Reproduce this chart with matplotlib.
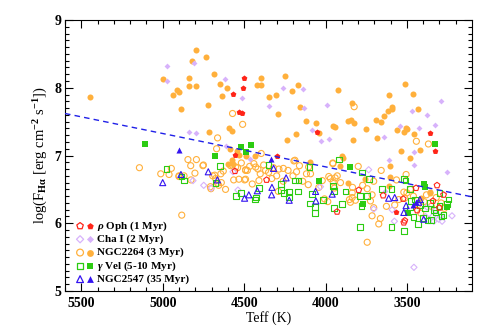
import matplotlib as mpl
import matplotlib.pyplot as plt

# ---- data (Teff in K, log F_Halpha) ----
rho_filled_T = [4501, 4507, 4571, 4530, 4513, 4558, 4301, 4051, 3356, 3329, 3568]
rho_filled_y = [8.15, 8.00, 7.91, 7.64, 7.62, 7.01, 6.99, 7.34, 7.33, 7.07, 6.16]
rho_open_T = [4556, 4362, 3929, 3796, 3646, 3523, 3519, 3444, 3315, 3275, 3301, 3437, 3513, 3340]
rho_open_y = [6.77, 6.64, 6.17, 6.49, 6.41, 6.36, 6.01, 6.52, 6.56, 6.42, 6.23, 6.19, 6.04, 6.33]

cha_filled_T = [4975, 4975, 4808, 4836, 4793, 4620, 4513, 4609, 4262, 4139, 4348, 4133, 3990, 4086,
                4025, 3980, 3640, 3540, 3468, 3423, 3376, 3327, 3288, 3454, 3607, 3454, 4464, 3632, 3251]
cha_filled_y = [8.32, 8.10, 8.36, 7.34, 7.33, 8.13, 7.85, 7.14, 8.00, 7.98, 7.73, 7.70, 7.75, 7.37,
                7.22, 7.25, 7.27, 7.43, 7.66, 7.40, 7.60, 7.45, 7.80, 7.05, 6.94, 6.86, 6.95, 6.48, 6.76]
cha_open_T = [4814, 4748, 4701, 4538, 4568, 3457, 3735, 3591, 3704, 3223, 3577, 4031, 3305, 3343,
              3295, 3386, 3335, 3284, 3376, 3325]
cha_open_y = [6.63, 6.56, 6.52, 6.49, 6.76, 5.35, 6.79, 6.20, 6.21, 6.11, 6.03, 6.54, 6.06, 6.10,
              6.10, 6.10, 6.03, 6.03, 6.24, 6.19]

n2264_filled_T = [5446, 4998, 4939, 4910, 4898, 4885, 4840, 4839, 4820, 4796, 4796, 4734, 4722, 4716,
                  4685, 4648, 4638, 4605, 4593, 4577,
                  4395, 4423, 4395, 4250, 4166, 4204, 4348, 4302, 3922, 4158, 4290, 4121, 4059, 4039,
                  4180, 4237, 3951, 3940, 3839, 3861, 3845, 3826, 3750, 3687, 3658, 3638, 3615, 3593,
                  3589, 3607, 3511, 3464, 3429, 3560, 3505, 3499, 3519, 3458, 3685, 3832, 3421, 3536,
                  3483, 3603, 4094, 3897, 3912,
                  4491, 4434, 4587, 4544, 4529, 4597, 4569, 4577, 3890, 3756, 3612, 3358, 3413, 3601,
                  3863, 3356]
n2264_filled_y = [7.86, 8.13, 7.89, 7.96, 7.93, 7.69, 8.15, 8.02, 8.40, 8.55, 8.03, 8.46, 7.75, 7.34,
                  8.20, 8.06, 7.88, 7.99, 7.40, 7.36,
                  8.14, 8.04, 8.04, 8.17, 8.04, 7.95, 7.87, 7.90, 7.96, 7.71, 7.61, 7.51, 7.48, 7.33,
                  7.32, 7.23, 7.43, 7.42, 7.77, 7.51, 7.52, 7.48, 7.39, 7.53, 7.50, 7.59, 7.65, 7.72,
                  7.68, 7.89, 8.05, 7.91, 7.68, 7.38, 7.40, 7.39, 7.34, 7.32, 7.26, 7.23, 7.08, 7.06,
                  6.96, 6.84, 6.91, 6.99, 6.84,
                  7.00, 7.00, 7.10, 7.07, 7.01, 6.88, 6.88, 6.93, 6.96, 6.66, 6.55, 6.46, 6.37, 6.69,
                  6.59, 6.45]
n2264_open_T = [4571, 4509, 4663, 4669, 4845, 4793, 3824, 3442, 3368, 4194, 3799, 3955, 4395,
                5143, 5012, 4961, 4947, 4900, 4883, 4828, 4802, 4753, 4826, 4707, 4704, 4693, 4681,
                4614, 4656, 4628, 4583, 4540, 4491, 4564, 4491,
                4643, 4675, 4574, 4552, 4517, 4491, 4532, 4497, 4640, 4663, 4869, 4900, 4750,
                4188, 4178, 4117, 4092, 4106, 4020, 4286, 4259, 4368, 4401, 4429, 4466, 4480, 4409,
                4450, 4290, 4041,
                4104, 3980, 3928, 3953, 3945, 3836, 3816, 3853, 3704, 3724, 3673, 3663, 3744, 3626,
                3550, 3575, 3513, 3519, 3564, 3772, 3744, 3714,
                3955, 3658, 3704, 3970, 3941, 3908, 3834, 3847, 3836, 4006, 3986, 3714,
                3505, 3479, 3500, 3460, 3430, 3395, 3350, 3320, 3290, 3270, 3415, 3380,
                4440, 4415, 4380, 4350, 4320, 4300, 4330, 4260, 4230, 4140, 4160, 4200]
n2264_open_y = [7.62, 7.46, 7.26, 7.10, 6.94, 6.94, 7.72, 7.21, 7.17, 6.92, 6.84, 6.88, 7.03,
                6.82, 6.73, 6.72, 6.81, 6.69, 6.12, 6.85, 6.74, 6.85, 6.64, 6.54, 6.51, 6.70, 6.71,
                6.50, 6.56, 6.77, 6.85, 6.82, 6.78, 6.64, 6.65,
                6.73, 6.66, 6.86, 6.83, 6.89, 6.79, 6.65, 6.64, 6.60, 6.59, 6.70, 6.70, 6.86,
                6.93, 6.76, 6.73, 6.73, 6.57, 6.63, 6.80, 6.81, 6.78, 6.73, 6.83, 6.84, 6.78, 6.63,
                6.58, 6.47, 6.53,
                6.83, 6.69, 6.70, 6.61, 6.52, 6.45, 6.34, 6.35, 6.23, 6.33, 5.99, 6.07, 5.72, 6.25,
                6.35, 6.27, 6.37, 6.46, 6.64, 6.56, 6.51, 6.42,
                6.89, 6.78, 6.62, 6.66, 6.67, 6.60, 6.53, 6.31, 6.38, 6.36, 6.32, 6.11,
                6.72, 6.50, 6.45, 6.40, 6.28, 6.32, 6.25, 6.38, 6.30, 6.22, 6.15, 6.42,
                6.88, 6.80, 6.86, 6.75, 6.82, 6.70, 6.66, 6.62, 6.78, 6.62, 6.85, 6.70]

gvel_filled_T = [5110, 4677, 4521, 4489, 4456, 3329, 3851, 4043, 3768, 3393, 3391, 3254, 3495]
gvel_filled_y = [7.17, 6.99, 7.13, 7.05, 7.15, 7.17, 6.83, 6.63, 6.29, 6.58, 6.53, 6.24, 6.15]
gvel_open_T = [4977, 4885, 4869, 4648, 4675, 4552, 4517, 3916, 4098, 4350,
               4274, 4274, 4225, 4170, 4188, 4166, 4409, 4428, 4434, 4256, 4223, 4084, 4096, 4063,
               4063, 4014,
               3778, 3953, 3946, 3878, 3787, 3744, 3897, 3946, 3779, 3652, 3595, 3786, 3595,
               3509, 3474, 3325, 3288, 3431, 3374, 3517, 3254,
               3735, 3516, 3483,
               3450, 3420, 3390, 3360, 3335, 3300, 3275, 3245, 3480, 3400, 3350, 3460, 3300]
gvel_open_y = [6.80, 6.69, 6.63, 6.85, 6.59, 6.40, 6.45, 6.94, 6.83, 6.86,
               6.58, 6.49, 6.47, 6.47, 6.63, 6.63, 6.52, 6.38, 6.35, 6.45, 6.38, 6.43, 6.29, 6.24,
               6.15, 6.34,
               6.75, 6.55, 6.48, 6.47, 6.40, 6.40, 6.28, 6.23, 6.26, 6.51, 6.51, 5.95, 5.95,
               6.63, 6.33, 6.16, 6.10, 5.99, 6.04, 5.89, 6.28,
               6.65, 6.65, 6.51,
               6.35, 6.27, 6.22, 6.30, 6.20, 6.45, 6.12, 6.35, 6.24, 6.08, 6.05, 6.09, 6.25]

n2547_filled_T = [4900, 4337, 3442, 3465]
n2547_filled_y = [7.08, 6.95, 6.31, 6.27]
n2547_open_T = [5000, 4888, 4720, 4664, 4497, 4471, 4319, 4242, 4329, 4419, 4223, 4061, 4059,
                3959, 4331, 3612, 3575, 3519, 3505, 3397, 3428, 3420]
n2547_open_y = [6.60, 6.72, 6.76, 6.64, 6.37, 6.42, 6.81, 6.67, 6.53, 6.48, 6.34, 6.47, 6.33,
                6.43, 6.42, 6.37, 6.38, 6.16, 6.26, 6.06, 6.31, 6.35]

fit_T = [5600, 3100]
fit_y = [7.62, 6.39]

labels = [r"$\rho$ Oph (1 Myr)", "Cha I (2 Myr)", "NGC2264 (3 Myr)",
          r"$\gamma$ Vel (5-10 Myr)", "NGC2547 (35 Myr)"]

RED = "#ff2418"
LAV = "#d7b2fb"
ORA = "#ffb03c"
GRN = "#2ccc12"
BLU = "#3414f0"

mpl.rcParams.update({
    "font.family": ["Liberation Serif", "DejaVu Serif"],
    "font.weight": "bold",
    "mathtext.fontset": "custom",
    "mathtext.rm": "Liberation Serif:bold",
    "mathtext.it": "Liberation Serif:bold:italic",
    "mathtext.bf": "Liberation Serif:bold",
})

fig = plt.figure(figsize=(4.91, 3.33), dpi=100)
ax = fig.add_axes([0.1324, 0.126, 0.829, 0.814])

lw = 0.8
# open and filled markers per cluster
ax.scatter(n2264_open_T, n2264_open_y, s=19, marker="o", facecolors="none", edgecolors=ORA, linewidths=lw)
ax.scatter(n2264_filled_T, n2264_filled_y, s=19, marker="o", color=ORA, linewidths=0)
ax.scatter(cha_open_T, cha_open_y, s=10, marker="D", facecolors="none", edgecolors=LAV, linewidths=lw)
ax.scatter(cha_filled_T, cha_filled_y, s=9, marker="D", color=LAV, linewidths=0)
ax.scatter(gvel_open_T, gvel_open_y, s=17, marker="s", facecolors="none", edgecolors=GRN, linewidths=lw)
ax.scatter(gvel_filled_T, gvel_filled_y, s=17, marker="s", color=GRN, linewidths=0)
ax.scatter(n2547_open_T, n2547_open_y, s=19, marker="^", facecolors="none", edgecolors=BLU, linewidths=lw)
ax.scatter(n2547_filled_T, n2547_filled_y, s=19, marker="^", color=BLU, linewidths=0)
ax.scatter(rho_open_T, rho_open_y, s=19, marker="p", facecolors="none", edgecolors=RED, linewidths=lw)
ax.scatter(rho_filled_T, rho_filled_y, s=19, marker="p", color=RED, linewidths=0)

ax.plot(fit_T, fit_y, color="#2020e8", lw=1.0, dashes=(4.0, 3.0), zorder=5)

ax.set_xlim(5600, 3100)
ax.set_ylim(5, 9)
ax.set_xticks([5500, 5000, 4500, 4000, 3500])
ax.set_xticks(range(3200, 5601, 100), minor=True)
ax.set_yticks([5, 6, 7, 8, 9])
ax.set_yticks([5 + 0.1 * i for i in range(41)], minor=True)
ax.tick_params(which="both", direction="in", top=True, right=True, width=0.8, labelsize=10)
ax.tick_params(which="major", length=5.5)
ax.tick_params(which="minor", length=2.8)
ax.tick_params(axis="x", pad=4)
ax.tick_params(axis="y", pad=2.5)
for sp in ax.spines.values():
    sp.set_linewidth(0.8)

ax.set_xlabel("Teff (K)", fontsize=10, labelpad=1)
ax.set_ylabel(r"log(F$_{\mathrm{H\alpha}}$ [erg cm$^{-2}$ s$^{-1}$])", fontsize=10.5, labelpad=3)

# legend: open + filled marker per row
markers = ["p", "D", "o", "s", "^"]
colors = [RED, LAV, ORA, GRN, BLU]
sizes = [24, 13, 24, 22, 24]
for i, (lab, mk, c, sz) in enumerate(zip(labels, markers, colors, sizes)):
    yy = 0.240 - i * 0.049
    ax.scatter([0.037], [yy], s=sz, marker=mk, facecolors="none", edgecolors=c, linewidths=0.9,
               transform=ax.transAxes, clip_on=False)
    ax.scatter([0.062], [yy], s=sz, marker=mk, color=c, linewidths=0,
               transform=ax.transAxes, clip_on=False)
    ax.text(0.079, yy, lab, transform=ax.transAxes, ha="left", va="center", fontsize=8)

fig.savefig("out.png", dpi=100)
